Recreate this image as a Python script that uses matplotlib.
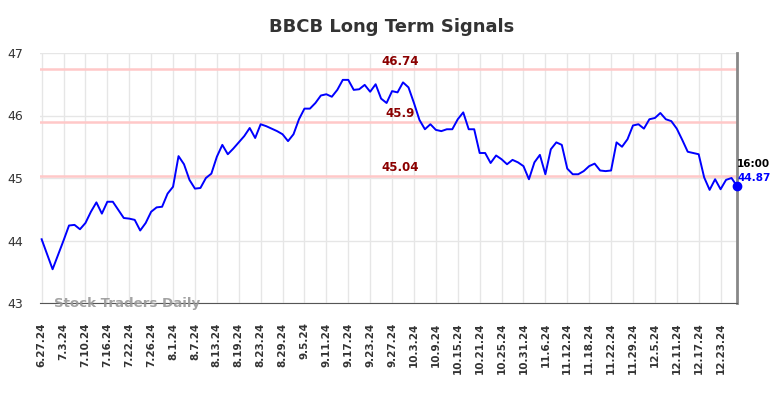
import matplotlib
matplotlib.use("Agg")
import matplotlib.pyplot as plt

title = "BBCB Long Term Signals"

tick_labels = ["6.27.24", "7.3.24", "7.10.24", "7.16.24", "7.22.24", "7.26.24",
               "8.1.24", "8.7.24", "8.13.24", "8.19.24", "8.23.24", "8.29.24",
               "9.5.24", "9.11.24", "9.17.24", "9.23.24", "9.27.24", "10.3.24",
               "10.9.24", "10.15.24", "10.21.24", "10.25.24", "10.31.24", "11.6.24",
               "11.12.24", "11.18.24", "11.22.24", "11.29.24", "12.5.24", "12.11.24",
               "12.17.24", "12.23.24"]
tick_step = 4  # one label every 4 trading days

prices = [44.02, 43.78, 43.54, 43.77, 44.00, 44.24, 44.25, 44.18, 44.28, 44.46,
          44.61, 44.43, 44.62, 44.62, 44.49, 44.36, 44.35, 44.33, 44.16, 44.28,
          44.46, 44.53, 44.54, 44.75, 44.86, 45.35, 45.22, 44.97, 44.83, 44.84,
          45.00, 45.07, 45.34, 45.53, 45.38, 45.47, 45.57, 45.67, 45.80, 45.64,
          45.86, 45.83, 45.79, 45.75, 45.70, 45.59, 45.70, 45.94, 46.11, 46.11,
          46.20, 46.32, 46.34, 46.30, 46.41, 46.57, 46.57, 46.41, 46.42, 46.49,
          46.38, 46.50, 46.27, 46.20, 46.39, 46.37, 46.53, 46.45, 46.20, 45.93,
          45.78, 45.86, 45.77, 45.75, 45.78, 45.78, 45.94, 46.05, 45.78, 45.78,
          45.40, 45.40, 45.24, 45.36, 45.30, 45.22, 45.29, 45.25, 45.19, 44.98,
          45.25, 45.37, 45.06, 45.46, 45.57, 45.53, 45.15, 45.06, 45.06, 45.11,
          45.19, 45.23, 45.12, 45.11, 45.12, 45.57, 45.50, 45.62, 45.84, 45.86,
          45.79, 45.94, 45.96, 46.04, 45.94, 45.91, 45.79, 45.61, 45.42, 45.40,
          45.38, 45.01, 44.81, 44.98, 44.82, 44.97, 45.00, 44.87]

signal_levels = [46.74, 45.9, 45.04]
signal_texts = ["46.74", "45.9", "45.04"]
last_time = "16:00"
last_text = "44.87"

fig = plt.figure(figsize=(7.84, 3.98), dpi=100)
ax = fig.add_axes([40 / 784, 1 - 303 / 398, 697 / 784, 250 / 398])

x = list(range(len(prices)))
ticks = list(range(0, len(tick_labels) * tick_step, tick_step))

ax.set_xlim(-0.3, len(prices) - 1)
ax.set_ylim(43, 47)
ax.set_yticks([43, 44, 45, 46, 47])
ax.set_xticks(ticks)
ax.set_xticklabels(tick_labels, rotation=90, fontsize=7.5, fontweight="bold", color="#333333")
ax.tick_params(axis="x", length=0, pad=14)
ax.tick_params(axis="y", length=0, pad=12, labelsize=9, labelcolor="#333333")
ax.grid(True, color="#e6e6e6", lw=1)
ax.set_axisbelow(True)

for s in ["top", "left"]:
    ax.spines[s].set_visible(False)
ax.spines["bottom"].set_color("#555555")
ax.spines["right"].set_color("#888888")
ax.spines["right"].set_linewidth(2)

for lvl, txt in zip(signal_levels, signal_texts):
    ax.axhline(lvl, color="#ffc8c8", lw=1.8, zorder=1)
    ax.annotate(txt, xy=(65.4, lvl), xytext=(0, 1), textcoords="offset points",
                ha="center", va="bottom", fontsize=8.5, fontweight="bold", color="#8b0000")

ax.plot(x, prices, color="#0000ff", lw=1.4, zorder=3)
ax.plot(x[-1], prices[-1], "o", color="#0000ff", ms=6, zorder=4, clip_on=False)

ax.annotate(last_time, xy=(x[-1], prices[-1]), xytext=(0, 16), textcoords="offset points",
            ha="left", va="center", fontsize=7.5, fontweight="bold", color="black")
ax.annotate(last_text, xy=(x[-1], prices[-1]), xytext=(0, 6), textcoords="offset points",
            ha="left", va="center", fontsize=7.5, fontweight="bold", color="#0000ff")

ax.text(0.02, 0.0, "Stock Traders Daily", transform=ax.transAxes, ha="left", va="center",
        fontsize=9.6, fontweight="bold", color="#999999", alpha=0.9)

fig.text(0.5, 1 - 27 / 398, title, ha="center", va="center",
         fontsize=13, fontweight="bold", color="#333333")

fig.savefig("out.png", dpi=100)
